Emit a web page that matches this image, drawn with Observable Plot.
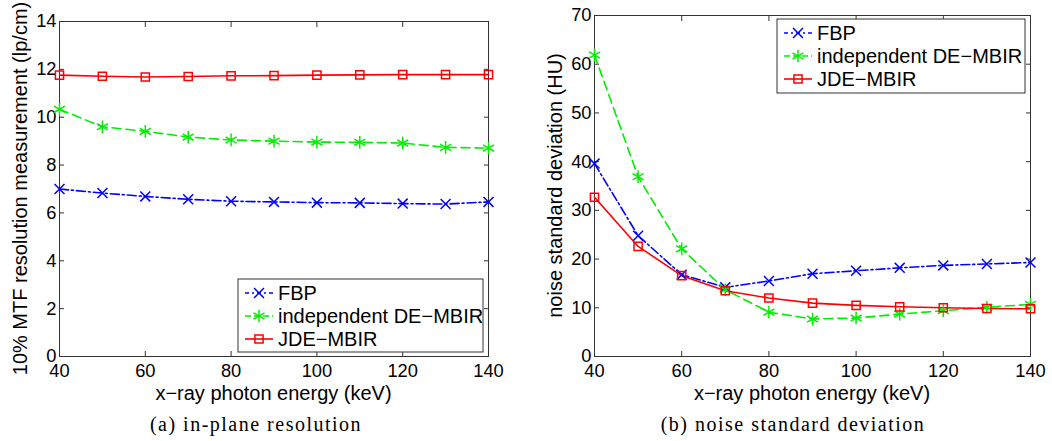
<!DOCTYPE html>
<html><head><meta charset="utf-8">
<script src="https://cdn.jsdelivr.net/npm/d3@7"></script>
<script src="https://cdn.jsdelivr.net/npm/@observablehq/plot@0.6"></script>
<style>
body{margin:0;background:#fff;}
#wrap{position:relative;width:1052px;height:441px;overflow:hidden;background:#fff;}
.panel{position:absolute;top:0;}
.cap{position:absolute;top:414px;font-family:"Liberation Serif","Times New Roman",serif;font-size:20px;letter-spacing:1.5px;line-height:1;transform:translateX(-50%);white-space:nowrap;color:#000;}
</style></head><body><div id="wrap"></div>
<script>
// ---- data ----
const energy = [40, 50, 60, 70, 80, 90, 100, 110, 120, 130, 140];
const xTicks = [40, 60, 80, 100, 120, 140];

// (a) in-plane resolution, 10% MTF (lp/cm)
const resFBP  = [7.0, 6.83, 6.69, 6.57, 6.49, 6.46, 6.43, 6.42, 6.39, 6.37, 6.46];
const resIND  = [10.33, 9.60, 9.41, 9.17, 9.05, 9.0, 8.96, 8.95, 8.92, 8.74, 8.71];
const resJDE  = [11.76, 11.71, 11.68, 11.70, 11.73, 11.74, 11.76, 11.77, 11.78, 11.78, 11.78];
const resYTicks = [0, 2, 4, 6, 8, 10, 12, 14];

// (b) noise standard deviation (HU)
const noiseFBP = [39.6, 24.8, 16.8, 14.2, 15.5, 17.0, 17.6, 18.2, 18.7, 19.0, 19.3];
const noiseIND = [61.9, 36.9, 22.1, 13.7, 9.1, 7.7, 7.9, 8.7, 9.4, 10.1, 10.7];
const noiseJDE = [32.7, 22.6, 16.6, 13.5, 12.0, 10.95, 10.5, 10.2, 10.0, 9.85, 9.8];
const noiseYTicks = [0, 10, 20, 30, 40, 50, 60, 70];

const seriesNames   = ["FBP", "independent DE\u2212MBIR", "JDE\u2212MBIR"];
const seriesColors  = ["#0000ff", "#00ee00", "#ff0000"];
const seriesDash    = ["9,3,2,3", "9,5", null];
const seriesSymbols = ["times", "asterisk", "square"];
const seriesR       = [4.6, 6, 4.6];

const xLabel = "x\u2212ray photon energy (keV)";

function toRows(arrays) {
  const rows = [];
  arrays.forEach((vals, s) => vals.forEach((v, i) => rows.push({series: seriesNames[s], s, x: energy[i], y: v})));
  return rows;
}

const FONT = '"Liberation Sans", Arial, Helvetica, sans-serif';

function makePanel({arrays, yDomain, yTicks, yLabel, width, height, marginLeft, marginRight, marginTop, marginBottom, legend}) {
  const rows = toRows(arrays);
  const marks = [
    Plot.frame({stroke: "#333", strokeWidth: 1}),
    Plot.axisX({anchor: "bottom", ticks: xTicks, tickSize: -5, tickPadding: 12, stroke: "#333", fontSize: 18.3, label: null}),
    Plot.axisX({anchor: "top", ticks: xTicks, tickSize: -5, tickFormat: () => "", stroke: "#333", label: null}),
    Plot.axisY({anchor: "left", ticks: yTicks, tickSize: -5, tickPadding: 8, stroke: "#333", fontSize: 18.3, label: null}),
    Plot.axisY({anchor: "right", ticks: yTicks, tickSize: -5, tickFormat: () => "", stroke: "#333", label: null})
  ];
  seriesNames.forEach((name, s) => {
    const d = rows.filter(r => r.s === s);
    marks.push(Plot.line(d, {x: "x", y: "y", stroke: seriesColors[s], strokeWidth: 1.6, strokeDasharray: seriesDash[s] ?? undefined}));
  });
  seriesNames.forEach((name, s) => {
    const d = rows.filter(r => r.s === s);
    marks.push(Plot.dot(d, {x: "x", y: "y", symbol: () => seriesSymbols[s], r: seriesR[s], stroke: seriesColors[s], fill: "none", strokeWidth: 1.5}));
  });
  const chart = Plot.plot({
    width, height, marginLeft, marginRight, marginTop, marginBottom,
    style: {fontFamily: FONT, fontSize: "18.3px", color: "#000", background: "#fff", overflow: "visible"},
    x: {domain: [40, 140]},
    y: {domain: yDomain},
    marks
  });
  const svg = d3.select(chart);
  // axis titles
  const xs = chart.scale("x"), ys = chart.scale("y");
  const cx = (xs.apply(40) + xs.apply(140)) / 2;
  const cy = (ys.apply(yDomain[0]) + ys.apply(yDomain[1])) / 2;
  svg.append("text").attr("x", cx).attr("y", height - 8).attr("text-anchor", "middle")
    .attr("font-size", 20).attr("font-family", FONT).attr("fill", "#000").text(xLabel);
  svg.append("text").attr("transform", `translate(${legend.yLabelX},${cy}) rotate(-90)`).attr("text-anchor", "middle")
    .attr("font-size", 20).attr("font-family", FONT).attr("fill", "#000").text(yLabel);
  // legend
  const g = svg.append("g").attr("transform", `translate(${legend.x},${legend.y})`);
  g.append("rect").attr("width", legend.w).attr("height", legend.h).attr("fill", "#fff").attr("stroke", "#333").attr("stroke-width", 1);
  seriesNames.forEach((name, s) => {
    const yy = 14 + s * 23;
    g.append("line").attr("x1", 7).attr("x2", 35).attr("y1", yy).attr("y2", yy)
      .attr("stroke", seriesColors[s]).attr("stroke-width", 1.6)
      .attr("stroke-dasharray", seriesDash[s] ? (s === 0 ? "4,3,2,3" : "6,3") : null);
    const sym = {times: d3.symbolTimes, asterisk: d3.symbolAsterisk, square: d3.symbolSquare}[seriesSymbols[s]];
    g.append("path").attr("d", d3.symbol(sym, Math.PI * seriesR[s] * seriesR[s])())
      .attr("transform", `translate(21,${yy})`).attr("fill", "none").attr("stroke", seriesColors[s]).attr("stroke-width", 1.5);
    g.append("text").attr("x", 40).attr("y", yy).attr("dy", "0.36em").attr("font-size", 20)
      .attr("text-anchor", "start")
      .attr("font-family", FONT).attr("fill", "#000").text(name);
  });
  return chart;
}

const wrap = document.getElementById("wrap");

const left = makePanel({
  arrays: [resFBP, resIND, resJDE], yDomain: [0, 14], yTicks: resYTicks,
  yLabel: "10% MTF resolution measurement (lp/cm)",
  width: 526, height: 408, marginLeft: 59, marginRight: 38, marginTop: 21, marginBottom: 52,
  legend: {x: 238, y: 279, w: 245, h: 73, yLabelX: 27}
});
left.classList.add("panel"); left.style.left = "0px";
wrap.appendChild(left);

const right = makePanel({
  arrays: [noiseFBP, noiseIND, noiseJDE], yDomain: [0, 70], yTicks: noiseYTicks,
  yLabel: "noise standard deviation (HU)",
  width: 526, height: 408, marginLeft: 68, marginRight: 22, marginTop: 15, marginBottom: 52,
  legend: {x: 251, y: 19, w: 248, h: 74, yLabelX: 36}
});
right.classList.add("panel"); right.style.left = "526px";
wrap.appendChild(right);

const capA = document.createElement("div");
capA.className = "cap"; capA.style.left = "256px"; capA.textContent = "(a) in-plane resolution";
wrap.appendChild(capA);
const capB = document.createElement("div");
capB.className = "cap"; capB.style.left = "793px"; capB.textContent = "(b) noise standard deviation";
wrap.appendChild(capB);
</script></body></html>
